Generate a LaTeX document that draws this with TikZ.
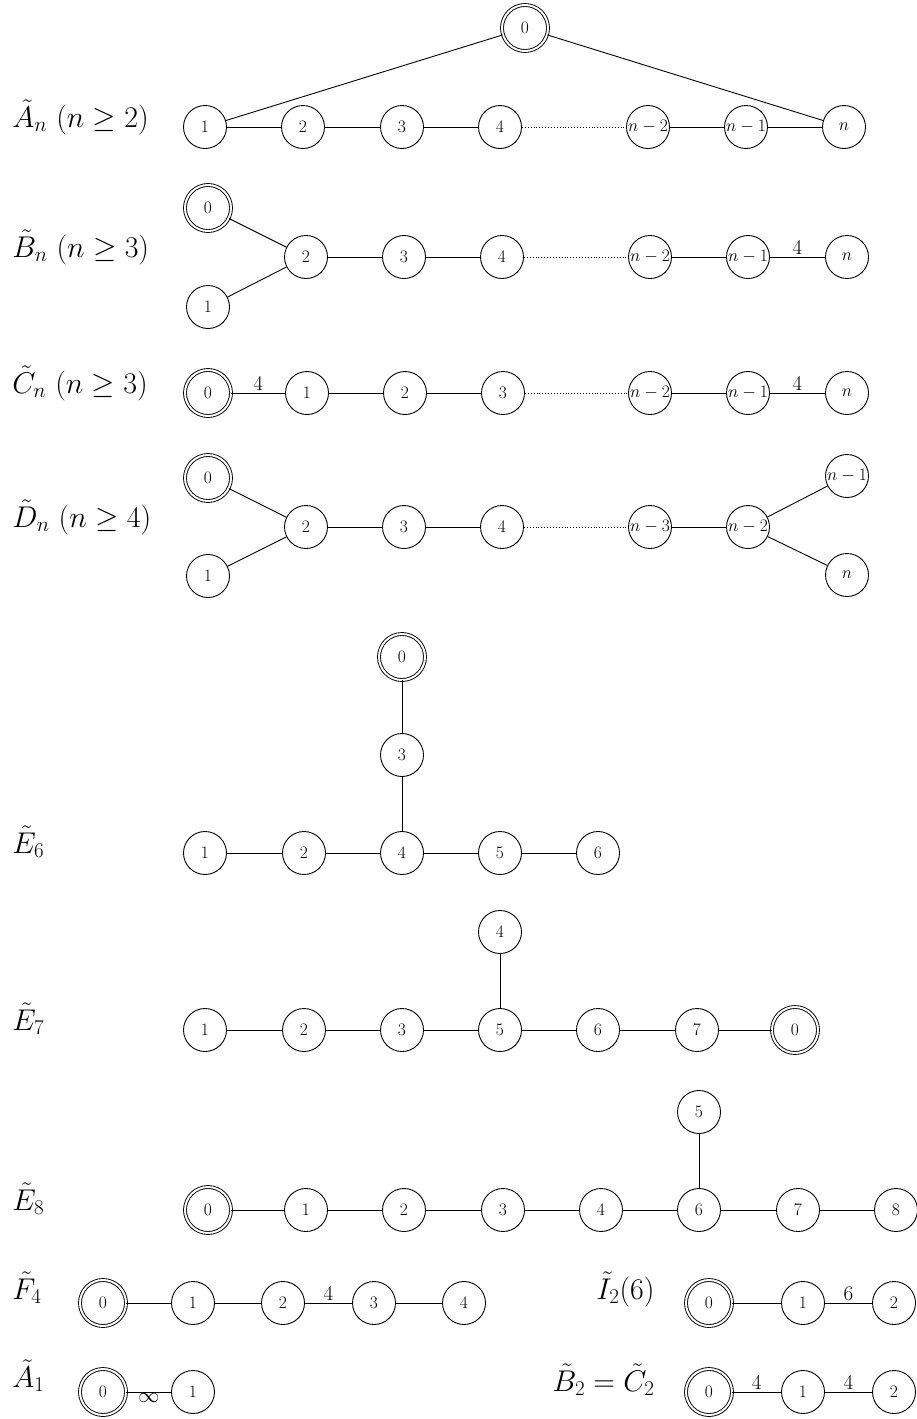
\RequirePackage{fix-cm}
\documentclass[tikz,border=0pt]{standalone}
\begin{document}
\begin{tikzpicture}[x=1pt,y=-1pt,
  every path/.style={line width=0.9pt},
  v/.style={circle, draw, minimum size=43pt, inner sep=0pt, font=\fontsize{17.5}{19}\selectfont},
  vz/.style={v, double, double distance=2pt, minimum size=46pt},
  lab/.style={anchor=base west, inner sep=0pt, font=\fontsize{30}{34}\selectfont},
  labr/.style={anchor=base east, inner sep=0pt, font=\fontsize{30}{34}\selectfont},
  el/.style={above, inner sep=2pt, font=\fontsize{21}{23}\selectfont},
  elb/.style={below, inner sep=1pt, font=\fontsize{21}{23}\selectfont},
  dots/.style={dotted, line width=0.6pt}]
\useasboundingbox (0,0) rectangle (917,1419);

% ---------- A_n ----------
\node[lab] (lA) at (12,127) {$\tilde{A}_n\ (n\geq 2)$};
\node[vz] (a0) at (525,28) {0};
\node[v] (a1) at (205,127) {1};
\node[v] (a2) at (303,127) {2};
\node[v] (a3) at (402,127) {3};
\node[v] (a4) at (500,127) {4};
\node[v] (an2) at (648,127) {$n-2$};
\node[v] (an1) at (746,127) {$n-1$};
\node[v] (an) at (844,127) {$n$};
\draw (a0) -- (a1);
\draw (a0) -- (an);
\draw (a1) -- (a2);
\draw (a2) -- (a3);
\draw (a3) -- (a4);
\draw[dots] (a4) -- (an2);
\draw (an2) -- (an1);
\draw (an1) -- (an);

% ---------- B_n ----------
\node[lab] (lB) at (12,257) {$\tilde{B}_n\ (n\geq 3)$};
\node[vz] (b0) at (208,208) {0};
\node[v] (b1) at (208,307) {1};
\node[v] (b2) at (306,257) {2};
\node[v] (b3) at (404,257) {3};
\node[v] (b4) at (502,257) {4};
\node[v] (bn2) at (650,257) {$n-2$};
\node[v] (bn1) at (748,257) {$n-1$};
\node[v] (bn) at (847,257) {$n$};
\draw (b0) -- (b2);
\draw (b1) -- (b2);
\draw (b2) -- (b3);
\draw (b3) -- (b4);
\draw[dots] (b4) -- (bn2);
\draw (bn2) -- (bn1);
\draw (bn1) -- node[el]{4} (bn);

% ---------- C_n ----------
\node[lab] (lC) at (12,393) {$\tilde{C}_n\ (n\geq 3)$};
\node[vz] (c0) at (208,393) {0};
\node[v] (c1) at (307,393) {1};
\node[v] (c2) at (405,393) {2};
\node[v] (c3) at (503,393) {3};
\node[v] (cn2) at (650,393) {$n-2$};
\node[v] (cn1) at (748,393) {$n-1$};
\node[v] (cn) at (847,393) {$n$};
\draw (c0) -- node[el]{4} (c1);
\draw (c1) -- (c2);
\draw (c2) -- (c3);
\draw[dots] (c3) -- (cn2);
\draw (cn2) -- (cn1);
\draw (cn1) -- node[el]{4} (cn);

% ---------- D_n ----------
\node[lab] (lD) at (12,527) {$\tilde{D}_n\ (n\geq 4)$};
\node[vz] (d0) at (208,478) {0};
\node[v] (d1) at (208,576) {1};
\node[v] (d2) at (306,527) {2};
\node[v] (d3) at (404,527) {3};
\node[v] (d4) at (502,527) {4};
\node[v] (dn3) at (650,527) {$n-3$};
\node[v] (dn2) at (748,527) {$n-2$};
\node[v] (dn1) at (847,476) {$n-1$};
\node[v] (dn) at (847,575) {$n$};
\draw (d0) -- (d2);
\draw (d1) -- (d2);
\draw (d2) -- (d3);
\draw (d3) -- (d4);
\draw[dots] (d4) -- (dn3);
\draw (dn3) -- (dn2);
\draw (dn2) -- (dn1);
\draw (dn2) -- (dn);

% ---------- E6 ----------
\node[lab] (lE6) at (12,853) {$\tilde{E}_6$};
\node[vz] (e60) at (402,657) {0};
\node[v] (e63) at (402,755) {3};
\node[v] (e61) at (205,853) {1};
\node[v] (e62) at (304,853) {2};
\node[v] (e64) at (402,853) {4};
\node[v] (e65) at (500,853) {5};
\node[v] (e66) at (598,853) {6};
\draw (e60) -- (e63);
\draw (e63) -- (e64);
\draw (e61) -- (e62);
\draw (e62) -- (e64);
\draw (e64) -- (e65);
\draw (e65) -- (e66);

% ---------- E7 ----------
\node[lab] (lE7) at (12,1030) {$\tilde{E}_7$};
\node[v] (e74) at (500,932) {4};
\node[v] (e71) at (205,1030) {1};
\node[v] (e72) at (304,1030) {2};
\node[v] (e73) at (402,1030) {3};
\node[v] (e75) at (500,1030) {5};
\node[v] (e76) at (598,1030) {6};
\node[v] (e77) at (697,1030) {7};
\node[vz] (e70) at (795,1030) {0};
\draw (e74) -- (e75);
\draw (e71) -- (e72);
\draw (e72) -- (e73);
\draw (e73) -- (e75);
\draw (e75) -- (e76);
\draw (e76) -- (e77);
\draw (e77) -- (e70);

% ---------- E8 ----------
\node[lab] (lE8) at (12,1210) {$\tilde{E}_8$};
\node[v] (e85) at (699,1112) {5};
\node[vz] (e80) at (208,1210) {0};
\node[v] (e81) at (306,1210) {1};
\node[v] (e82) at (404,1210) {2};
\node[v] (e83) at (503,1210) {3};
\node[v] (e84) at (601,1210) {4};
\node[v] (e86) at (699,1210) {6};
\node[v] (e87) at (798,1210) {7};
\node[v] (e88) at (896,1210) {8};
\draw (e85) -- (e86);
\draw (e80) -- (e81);
\draw (e81) -- (e82);
\draw (e82) -- (e83);
\draw (e83) -- (e84);
\draw (e84) -- (e86);
\draw (e86) -- (e87);
\draw (e87) -- (e88);

% ---------- F4 ----------
\node[lab] (lF4) at (12,1299) {$\tilde{F}_4$};
\node[vz] (f0) at (103,1303) {0};
\node[v] (f1) at (193,1303) {1};
\node[v] (f2) at (283,1303) {2};
\node[v] (f3) at (374,1303) {3};
\node[v] (f4) at (464,1303) {4};
\draw (f0) -- (f1);
\draw (f1) -- (f2);
\draw (f2) -- node[el]{4} (f3);
\draw (f3) -- (f4);

% ---------- I2(6) ----------
\node[labr] (lI) at (655,1299) {$\tilde{I}_2(6)$};
\node[vz] (i0) at (709,1303) {0};
\node[v] (i1) at (803,1303) {1};
\node[v] (i2) at (894,1303) {2};
\draw (i0) -- (i1);
\draw (i1) -- node[el]{6} (i2);

% ---------- A1 ----------
\node[lab] (lA1) at (12,1387) {$\tilde{A}_1$};
\node[vz] (g0) at (103,1392) {0};
\node[v] (g1) at (193,1392) {1};
\draw (g0) -- node[elb]{$\infty$} (g1);

% ---------- B2 = C2 ----------
\node[labr] (lBC) at (655,1391) {$\tilde{B}_2=\tilde{C}_2$};
\node[vz] (h0) at (709,1392) {0};
\node[v] (h1) at (803,1392) {1};
\node[v] (h2) at (894,1392) {2};
\draw (h0) -- node[el]{4} (h1);
\draw (h1) -- node[el]{4} (h2);
\end{tikzpicture}
\end{document}
